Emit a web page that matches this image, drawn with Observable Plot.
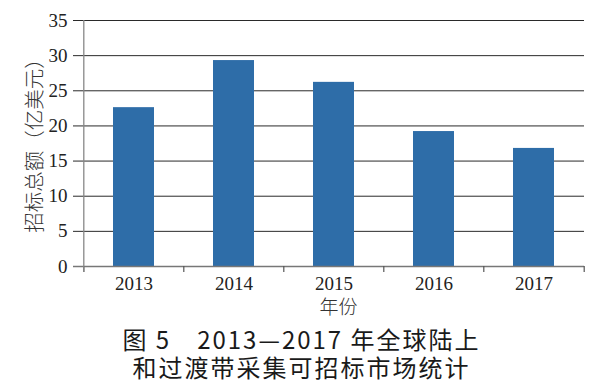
<!DOCTYPE html>
<html>
<head>
<meta charset="utf-8">
<script src="https://cdn.jsdelivr.net/npm/d3@7"></script>
<script src="https://cdn.jsdelivr.net/npm/@observablehq/plot@0.6"></script>
<style>
  html, body { margin: 0; padding: 0; background: #fff; }
  #chart { width: 593px; height: 324px; }
  .caption {
    width: 593px;
    text-align: center;
    font-family: "Noto Sans CJK SC", "Noto Sans", sans-serif;
    font-weight: 400;
    font-size: 24px;
    letter-spacing: 2px;
    line-height: 28px;
    color: #1a1a1a;
    margin-top: 1px;
  }
  .caption div { padding-left: 10px; }
</style>
</head>
<body>
<div id="chart"></div>
<div class="caption">
  <div>图 5　2013—2017 年全球陆上</div>
  <div>和过渡带采集可招标市场统计</div>
</div>
<script>
const years = ["2013", "2014", "2015", "2016", "2017"];
const values = [22.6, 29.3, 26.2, 19.2, 16.8];
const yTicks = [0, 5, 10, 15, 20, 25, 30, 35];
const yLabel = "招标总额（亿美元）";
const xLabel = "年份";

const data = years.map((y, i) => ({year: y, value: values[i]}));

const W = 593, ML = 82, MR = 9;
const bw = (W - ML - MR) / years.length;

const chart = Plot.plot({
  width: W,
  height: 324,
  marginLeft: ML,
  marginRight: MR,
  marginTop: 20,
  marginBottom: 58,
  style: {background: "#fff"},
  x: {type: "band", domain: years, paddingInner: 0.59, paddingOuter: 0.295, align: 0.5},
  y: {domain: [0, 35]},
  marks: [
    Plot.ruleY(yTicks.filter(d => d > 0), {y: d => d, stroke: "#2a2a2a", strokeWidth: 1, insetLeft: -9}),
    Plot.barY(data, {x: "year", y: "value", fill: "#2e6da8"}),
    Plot.ruleY([0], {stroke: "#777", strokeWidth: 1.3, insetLeft: -9}),
    Plot.ruleX(years, {x: d => d, dx: -bw / 2, y1: 0, y2: -0.85, stroke: "#555", strokeWidth: 1.2}),
    Plot.ruleX([years[years.length - 1]], {x: d => d, dx: bw / 2, y1: 0, y2: -0.85, stroke: "#555", strokeWidth: 1.2}),
    Plot.ruleX([years[0]], {x: d => d, dx: -bw / 2, y1: -0.85, y2: 35, stroke: "#888", strokeWidth: 1.3}),
    Plot.axisY({ticks: yTicks, tickSize: 0, tickPadding: 15, fontSize: 19, fontFamily: "Liberation Serif, serif", fill: "#222", label: null}),
    Plot.axisX({tickSize: 0, tickPadding: 10, fontSize: 19, fontFamily: "Liberation Serif, serif", fill: "#222", label: null}),
    Plot.text([xLabel], {frameAnchor: "bottom", lineAnchor: "middle", textAnchor: "middle", dy: 41, dx: 5, fontSize: 19, fontFamily: "Noto Sans CJK SC", fontWeight: 300, fill: "#333"}),
    Plot.text([yLabel], {frameAnchor: "left", rotate: -90, textAnchor: "middle", lineAnchor: "middle", dx: -47, dy: -3, fontSize: 20.5, fontFamily: "Noto Sans CJK SC", fontWeight: 300, fill: "#333"})
  ]
});
document.getElementById("chart").appendChild(chart);
</script>
</body>
</html>
